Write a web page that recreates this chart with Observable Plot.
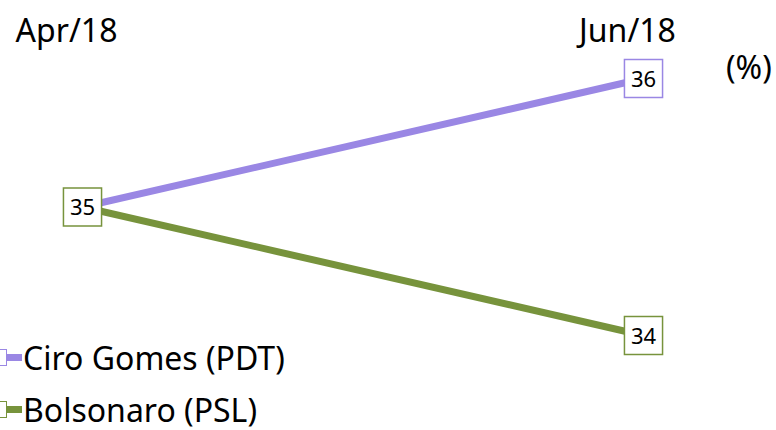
<!DOCTYPE html>
<html>
<head>
<meta charset="utf-8">
<script src="https://cdn.jsdelivr.net/npm/d3@7"></script>
<script src="https://cdn.jsdelivr.net/npm/@observablehq/plot@0.6"></script>
<style>
  html, body { margin: 0; padding: 0; background: #fff; overflow: hidden; }
  #wrap { position: relative; width: 776px; height: 430px; font-family: "Noto Sans", sans-serif; }
  #unit { position: absolute; left: 726px; top: 45px; font-size: 32px; color: #000; }
  .leg { position: absolute; left: 0; font-size: 32px; color: #000; display: flex; align-items: center; white-space: nowrap; }
  .sw { position: relative; width: 30px; height: 20px; margin-left: -8px; margin-right: 1px; }
  .sw .ln { position: absolute; left: 0; right: 0; top: 6px; height: 7px; }
  .sw .bx { position: absolute; left: 0; top: 1px; width: 15px; height: 17px; background: #fff; box-sizing: border-box; border: 1.5px solid; }
</style>
</head>
<body>
<div id="wrap"></div>
<script>
const periods = ["Apr/18", "Jun/18"];
const seriesNames = ["Ciro Gomes (PDT)", "Bolsonaro (PSL)"];
const ciroValues = [35, 36];
const bolsonaroValues = [35, 34];
const colors = ["#9a87e4", "#77933c"];

const rows = [];
periods.forEach((p, i) => {
  rows.push({period: p, value: ciroValues[i], series: seriesNames[0]});
  rows.push({period: p, value: bolsonaroValues[i], series: seriesNames[1]});
});
const labelRows = [
  rows.find(d => d.period === periods[1] && d.series === seriesNames[0]),
  rows.find(d => d.period === periods[1] && d.series === seriesNames[1]),
  rows.find(d => d.period === periods[0] && d.series === seriesNames[1])
];

const plot = Plot.plot({
  width: 776,
  height: 430,
  marginTop: 50,
  marginBottom: 0,
  marginLeft: 0,
  marginRight: 0,
  style: {fontFamily: "Noto Sans, sans-serif", background: "transparent", overflow: "visible"},
  x: {type: "point", domain: periods, range: [82, 643], padding: 0, label: null},
  y: {domain: [34, 36], range: [335, 78], axis: null},
  color: {domain: seriesNames, range: colors},
  marks: [
    Plot.axisX({anchor: "top", tickSize: 0, tickPadding: 9, fontSize: 32, dx: -16, color: "#000", label: null}),
    Plot.line(rows, {x: "period", y: "value", z: "series", stroke: "series", strokeWidth: 7, strokeLinecap: "butt"}),
    Plot.dot(labelRows, {x: "period", y: "value", symbol: "square", r: 21.5, fill: "white", stroke: "series", strokeWidth: 1.5}),
    Plot.text(labelRows, {x: "period", y: "value", text: d => String(d.value), fontSize: 22, fill: "#000", dy: 1})
  ]
});

const wrap = document.getElementById("wrap");
wrap.appendChild(plot);

const unit = document.createElement("div");
unit.id = "unit";
unit.textContent = "(%)";
wrap.appendChild(unit);

const legTops = [336, 388];
seriesNames.forEach((name, i) => {
  const row = document.createElement("div");
  row.className = "leg";
  row.style.top = legTops[i] + "px";
  const sw = document.createElement("div");
  sw.className = "sw";
  const ln = document.createElement("div");
  ln.className = "ln";
  ln.style.background = colors[i];
  const bx = document.createElement("div");
  bx.className = "bx";
  bx.style.borderColor = colors[i];
  sw.appendChild(ln);
  sw.appendChild(bx);
  const tx = document.createElement("span");
  tx.textContent = name;
  row.appendChild(sw);
  row.appendChild(tx);
  wrap.appendChild(row);
});
</script>
</body>
</html>
